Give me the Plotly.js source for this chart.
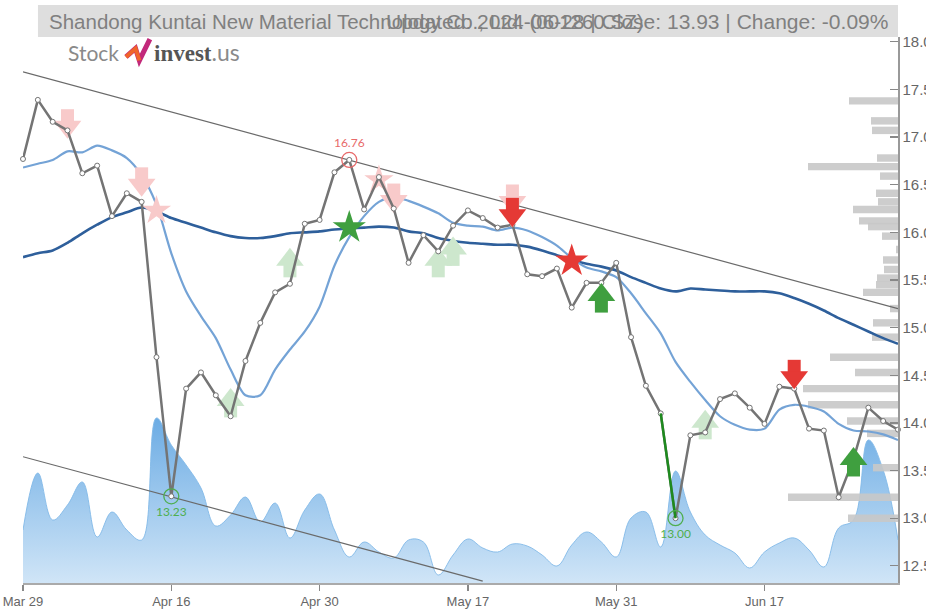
<!DOCTYPE html>
<html>
<head>
<meta charset="utf-8">
<script src="https://cdn.plot.ly/plotly-3.0.1.min.js"></script>
<style>html,body{margin:0;padding:0;background:#fff;}#chart{width:926px;height:610px;}</style>
</head>
<body>
<div id="chart"></div>
<script>
// ---------- DATA ----------
const dates = [
'2024-03-29','2024-04-01','2024-04-02','2024-04-03','2024-04-08','2024-04-09','2024-04-10','2024-04-11','2024-04-12','2024-04-15',
'2024-04-16','2024-04-17','2024-04-18','2024-04-19','2024-04-22','2024-04-23','2024-04-24','2024-04-25','2024-04-26','2024-04-29',
'2024-04-30','2024-05-06','2024-05-07','2024-05-08','2024-05-09','2024-05-10','2024-05-13','2024-05-14','2024-05-15','2024-05-16',
'2024-05-17','2024-05-20','2024-05-21','2024-05-22','2024-05-23','2024-05-24','2024-05-27','2024-05-28','2024-05-29','2024-05-30',
'2024-05-31','2024-06-03','2024-06-04','2024-06-05','2024-06-06','2024-06-07','2024-06-11','2024-06-12','2024-06-13','2024-06-14',
'2024-06-17','2024-06-18','2024-06-19','2024-06-20','2024-06-21','2024-06-24','2024-06-25','2024-06-26','2024-06-27','2024-06-28'];

const close = [
16.77,17.39,17.16,17.07,16.62,16.70,16.17,16.41,16.32,14.69,
13.23,14.36,14.53,14.29,14.07,14.65,15.05,15.37,15.46,16.09,
16.13,16.63,16.76,16.24,16.58,16.25,15.68,15.97,15.80,16.07,
16.23,16.15,16.05,16.08,15.56,15.54,15.62,15.21,15.47,15.47,
15.68,14.90,14.39,14.10,13.00,13.87,13.90,14.25,14.31,14.16,
13.99,14.38,14.36,13.94,13.92,13.22,13.62,14.16,14.02,13.93];

const maShort = [
16.68,16.72,16.76,16.85,16.84,16.91,16.86,16.78,16.60,16.29,
15.78,15.38,15.12,14.89,14.56,14.29,14.29,14.56,14.77,14.96,
15.22,15.65,15.95,16.17,16.32,16.37,16.33,16.27,16.20,16.10,
16.07,16.06,16.02,16.05,16.02,15.95,15.86,15.73,15.63,15.59,
15.53,15.36,15.15,14.94,14.64,14.43,14.24,14.07,13.98,13.93,
13.94,14.14,14.19,14.17,14.12,13.99,13.92,13.91,13.88,13.82];

const maLong = [
15.74,15.78,15.81,15.89,15.99,16.08,16.16,16.21,16.26,16.22,
16.15,16.10,16.05,16.00,15.96,15.94,15.94,15.96,15.99,16.00,
16.01,16.03,16.04,16.05,16.06,16.05,16.01,15.99,15.94,15.91,
15.89,15.88,15.87,15.87,15.85,15.81,15.76,15.71,15.67,15.64,
15.60,15.53,15.47,15.41,15.38,15.41,15.40,15.39,15.38,15.38,
15.38,15.36,15.31,15.25,15.18,15.10,15.03,14.96,14.89,14.83];

const volume = [
1325,2750,1575,1950,2525,1150,1775,1325,1075,4125,
3450,2950,2375,1425,1700,2150,1525,2000,1125,1825,
2225,1325,650,1025,775,625,1075,1025,200,700,
1100,875,775,975,925,700,425,950,1275,1025,
650,1625,1775,900,2800,1775,1200,950,750,375,
775,1000,1125,825,400,1375,1575,3575,2825,1075];

const profilePrice = [17.38,17.17,17.07,16.78,16.69,16.59,16.41,16.32,16.24,16.12,16.06,15.96,15.82,15.71,15.61,15.52,15.45,15.37,15.20,15.05,14.90,14.69,14.53,14.36,14.19,14.02,13.89,13.53,13.22,13.00];
const profileVolume = [49,27,26,21,90,18,22,20,45,39,30,16,2,15,14,21,22,35,8,25,26,68,43,95,90,51,31,25,110,50];

const upperTrendDates = ['2024-03-29','2024-06-28'];
const upperTrendVals = [17.685,15.20];
const lowerTrendDates = ['2024-03-29','2024-05-20'];
const lowerTrendVals = [13.645,12.34];

const dropDates = ['2024-06-05','2024-06-06'];
const dropVals = [14.10,13.00];

const highDates = ['2024-05-07'];
const highVals = [16.76];
const lowDates = ['2024-04-16','2024-06-06'];
const lowVals = [13.23,13.00];

const sellFadedDates = ['2024-04-03','2024-04-12','2024-05-10','2024-05-22'];
const sellFadedVals = [17.14,16.53,16.36,16.35];
const sellDates = ['2024-05-22','2024-06-19'];
const sellVals = [16.21,14.51];
const buyFadedDates = ['2024-04-22','2024-04-26','2024-05-15','2024-05-16','2024-06-11'];
const buyFadedVals = [14.21,15.68,15.68,15.80,13.98];
const buyDates = ['2024-05-30','2024-06-25'];
const buyVals = [15.31,13.59];
const starRedFadedDates = ['2024-04-15','2024-05-09'];
const starRedFadedVals = [16.23,16.55];
const starRedDates = ['2024-05-28'];
const starRedVals = [15.70];
const starGreenDates = ['2024-05-07'];
const starGreenVals = [16.05];

const tickDates = ['2024-03-29','2024-04-16','2024-04-30','2024-05-17','2024-05-31','2024-06-17'];
const tickLabels = ['Mar 29','Apr 16','Apr 30','May 17','May 31','Jun 17'];
const yTicks = [12.5,13.0,13.5,14.0,14.5,15.0,15.5,16.0,16.5,17.0,17.5,18.0];

const titleLeft = 'Shandong Kuntai New Material Technology Co., Ltd. (001260.SZ)';
const titleRight = 'Updated: 2024-06-28 | Close: 13.93 | Change: -0.09%';

// ---------- STYLE ----------
const FONT = '"Liberation Sans", Arial, sans-serif';
const RED = '#e53935', GREEN = '#3f9f3f';
const RED_F = '#f8caca', GREEN_F = '#cde7cd';
const PX = 95.3; // pixels per price unit (for arrow part offsets)

function arrowTraces(d, v, dir, color) {
  // dir = -1 down arrow, +1 up arrow; head + stem built from the same signal levels
  const headOff = dir < 0 ? -3 / PX : 3 / PX;
  const stemOff = dir < 0 ? 8 / PX : -8 / PX;
  return [
    {x:d, y:v.map(a => a + stemOff), xaxis:'x3', yaxis:'y2', mode:'markers',
      marker:{symbol:'square', size:13, color:color, line:{width:0}}, hoverinfo:'skip', cliponaxis:false},
    {x:d, y:v.map(a => a + headOff), xaxis:'x3', yaxis:'y2', mode:'markers',
      marker:{symbol: dir < 0 ? 'triangle-down' : 'triangle-up', size:24, color:color, line:{width:0}}, hoverinfo:'skip', cliponaxis:false}
  ];
}

const traces = [];
// volume area (base subplot)
traces.push({x: dates, y: volume, xaxis:'x', yaxis:'y', type:'scatter', mode:'lines',
  line:{shape:'spline', smoothing:1.1, color:'rgba(130,185,232,0.9)', width:1},
  fill:'tozeroy',
  fillgradient:{type:'vertical', colorscale:[[0,'rgba(208,229,247,1)'],[1,'rgba(108,172,228,1)']]},
  hoverinfo:'skip'});
// volume profile
traces.push({type:'bar', orientation:'h', x: profileVolume, y: profilePrice, xaxis:'x2', yaxis:'y2',
  width:0.078, marker:{color:'rgba(200,200,200,0.9)', line:{width:0}}, hoverinfo:'skip'});
// trend lines
traces.push({x: upperTrendDates, y: upperTrendVals, xaxis:'x3', yaxis:'y2', mode:'lines', line:{color:'#6a6a6a', width:1.2}, hoverinfo:'skip'});
traces.push({x: lowerTrendDates, y: lowerTrendVals, xaxis:'x3', yaxis:'y2', mode:'lines', line:{color:'#6a6a6a', width:1.2}, hoverinfo:'skip'});
// MAs
traces.push({x: dates, y: maLong, xaxis:'x3', yaxis:'y2', mode:'lines', line:{color:'#2e5f9b', width:2.6, shape:'spline', smoothing:0.8}, hoverinfo:'skip'});
traces.push({x: dates, y: maShort, xaxis:'x3', yaxis:'y2', mode:'lines', line:{color:'#74a3d6', width:2.2, shape:'spline', smoothing:0.8}, hoverinfo:'skip'});
// faded signals
arrowTraces(sellFadedDates, sellFadedVals, -1, RED_F).forEach(t => traces.push(t));
arrowTraces(buyFadedDates, buyFadedVals, 1, GREEN_F).forEach(t => traces.push(t));
traces.push({x: starRedFadedDates, y: starRedFadedVals, xaxis:'x3', yaxis:'y2', mode:'markers',
  marker:{symbol:'star', size:22, color:RED_F, line:{width:0}}, hoverinfo:'skip'});
// price line
traces.push({x: dates, y: close, xaxis:'x3', yaxis:'y2', mode:'lines+markers', line:{color:'#747474', width:2.5},
  marker:{symbol:'circle', size:5, color:'#fff', line:{color:'#747474', width:1}}, hoverinfo:'skip', cliponaxis:false});
// drop segment
traces.push({x: dropDates, y: dropVals, xaxis:'x3', yaxis:'y2', mode:'lines', line:{color:'#1e8a1e', width:2.5}, hoverinfo:'skip'});
// bold signals
arrowTraces(sellDates, sellVals, -1, RED).forEach(t => traces.push(t));
arrowTraces(buyDates, buyVals, 1, GREEN).forEach(t => traces.push(t));
traces.push({x: starRedDates, y: starRedVals, xaxis:'x3', yaxis:'y2', mode:'markers',
  marker:{symbol:'star', size:25, color:RED, line:{width:0}}, hoverinfo:'skip'});
traces.push({x: starGreenDates, y: starGreenVals, xaxis:'x3', yaxis:'y2', mode:'markers',
  marker:{symbol:'star', size:25, color:GREEN, line:{width:0}}, hoverinfo:'skip'});
// high / low circles
traces.push({x: highDates, y: highVals, xaxis:'x3', yaxis:'y2', mode:'markers+text', text: highVals.map(v=>v.toFixed(2)), textposition:'top center',
  textfont:{family:'Lato, sans-serif', size:12, color:'#e86a6a'},
  marker:{symbol:'circle-open', size:15, color:'#e86a6a', line:{width:1.3}}, hoverinfo:'skip', cliponaxis:false});
traces.push({x: lowDates, y: lowVals, xaxis:'x3', yaxis:'y2', mode:'markers+text', text: lowVals.map(v=>v.toFixed(2)), textposition:'bottom center',
  textfont:{family:'Lato, sans-serif', size:12, color:'#4fae4f'},
  marker:{symbol:'circle-open', size:15, color:'#4fae4f', line:{width:1.3}}, hoverinfo:'skip', cliponaxis:false});

traces.forEach(t => { if (!t.type) t.type = 'scatter'; t.showlegend = false; });

const catAxis = {type:'category', categoryorder:'array', categoryarray: dates, range:[0, dates.length-1]};

const layout = {
  width: 926, height: 610,
  margin: {l:23, r:28, t:37, b:27, pad:0},
  paper_bgcolor:'#fff', plot_bgcolor:'#fff',
  showlegend:false,
  xaxis: Object.assign({}, catAxis, {tickmode:'array', tickvals: tickDates, ticktext: tickLabels,
    ticks:'outside', ticklen:6, tickcolor:'#888', tickwidth:1.2, showline:true, linecolor:'#aaa', linewidth:1.5,
    showgrid:false, zeroline:false, tickfont:{family:FONT, size:13, color:'#666'}, fixedrange:true}),
  yaxis: {range:[0, 13650], visible:false, fixedrange:true, showgrid:false, zeroline:false},
  xaxis2: {overlaying:'x', anchor:'y2', range:[875, 0], visible:false, fixedrange:true, showgrid:false, zeroline:false},
  xaxis3: Object.assign({}, catAxis, {overlaying:'x', anchor:'y2', visible:false, fixedrange:true, showgrid:false, zeroline:false}),
  yaxis2: {overlaying:'y', side:'right', anchor:'x', range:[12.32, 18.05], tickmode:'array', tickvals: yTicks, ticktext: yTicks.map(v=>v.toFixed(1)),
    ticks:'inside', ticklen:8, tickcolor:'#888', tickwidth:1.2, showline:true, linecolor:'#999', linewidth:1.5,
    showgrid:false, zeroline:false, tickfont:{family:FONT, size:15, color:'#666'}, fixedrange:true},
  shapes: [
    {type:'rect', xref:'paper', yref:'paper', x0:0.0171, x1:1.0, y0:1.0, y1:1.0586, fillcolor:'#dedede', line:{width:0}, layer:'below'},
    // logo icon
    {type:'path', xref:'paper', yref:'paper', path:'M 0.1177 0.9634 L 0.1286 0.9790 L 0.1330 0.9570 L 0.1450 0.9960',
      line:{color:'#c2297a', width:5}},
    {type:'path', xref:'paper', yref:'paper', path:'M 0.1177 0.9634 L 0.1286 0.9790 L 0.1330 0.9570',
      line:{color:'#f0642a', width:4}}
  ],
  annotations: [
    {xref:'paper', yref:'paper', x:0.0274, y:1.0293, xanchor:'left', yanchor:'middle', showarrow:false,
      text: titleLeft, font:{family:FONT, size:20.5, color:'#808080'}},
    {xref:'paper', yref:'paper', x:0.9909, y:1.0293, xanchor:'right', yanchor:'middle', showarrow:false,
      text: titleRight, font:{family:FONT, size:21, color:'#808080'}},
    {xref:'paper', yref:'paper', x:0.0497, y:0.9725, xanchor:'left', yanchor:'middle', showarrow:false,
      text:'Stock', font:{family:'Lato, sans-serif', size:21, color:'#8a8a8a'}},
    {xref:'paper', yref:'paper', x:0.1474, y:0.9725, xanchor:'left', yanchor:'middle', showarrow:false,
      text:'<b><span style="font-family:Liberation Serif;color:#555">invest</span></b><span style="color:#8a8a8a">.us</span>',
      font:{family:'Lato, sans-serif', size:23, color:'#666'}}
  ]
};

Plotly.newPlot('chart', traces, layout, {displayModeBar:false, staticPlot:true});
</script>
</body>
</html>
